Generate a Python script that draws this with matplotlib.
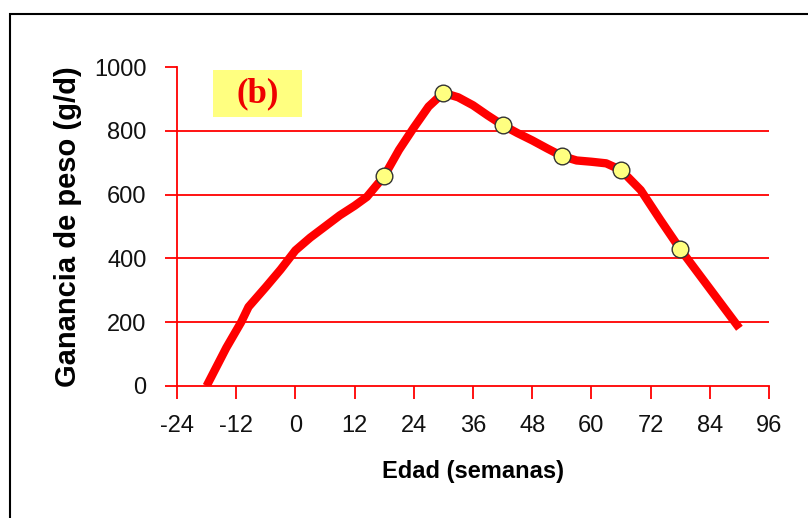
import matplotlib.pyplot as plt
from matplotlib.patches import Rectangle
from matplotlib.ticker import FuncFormatter

# curve (weeks vs g/d)
edad = [-18, -14, -11, -9.5, -6, -3, 0, 3, 6, 9, 12, 14.5, 18, 21, 24, 27,
        30, 33, 36, 39, 42, 45, 48, 51, 54, 57, 60, 63, 66, 70, 74, 78, 81,
        84, 87, 90]
ganancia = [0, 120, 200, 248, 310, 365, 425, 465, 500, 535, 565, 593, 658,
            740, 810, 876, 919, 905, 880, 848, 818, 793, 770, 745, 721, 707,
            703, 698, 677, 614, 520, 429, 367, 305, 243, 181]

# yellow markers every 12 weeks
edad_pts = [18, 30, 42, 54, 66, 78]
ganancia_pts = [658, 919, 818, 721, 677, 429]

xticks = list(range(-24, 97, 12))
yticks = [0, 200, 400, 600, 800, 1000]

fig = plt.figure(figsize=(8.08, 5.18), dpi=100)
fig.patches.append(Rectangle((10 / 808, -0.05), 1.0, 1 - 14 / 518 + 0.05,
                             transform=fig.transFigure, fill=False,
                             edgecolor="black", linewidth=1.5))

ax = fig.add_axes([177 / 808, 132 / 518, 592 / 808, 319 / 518])
ax.set_xlim(-24, 96)
ax.set_ylim(0, 1000)

for v in yticks[1:-1]:
    ax.axhline(v, color="red", linewidth=1.3, zorder=1)

ax.plot(edad, ganancia, color="red", linewidth=6, solid_capstyle="butt",
        solid_joinstyle="round", zorder=3)
ax.plot(edad_pts, ganancia_pts, linestyle="none", marker="o", markersize=12,
        markerfacecolor="#ffff80", markeredgecolor="#333333",
        markeredgewidth=1, zorder=4)

ax.set_xticks(xticks)
ax.set_yticks(yticks)
ax.xaxis.set_major_formatter(FuncFormatter(lambda v, p: "%d" % v))
for s in ["top", "right"]:
    ax.spines[s].set_visible(False)
for s in ["left", "bottom"]:
    ax.spines[s].set_color("red")
    ax.spines[s].set_linewidth(1.3)
ax.tick_params(axis="both", colors="red", length=9, width=1.3,
               labelcolor="#111111", labelsize=17)
ax.tick_params(axis="y", pad=13)
ax.tick_params(axis="x", pad=12)
ax.xaxis.get_major_ticks()[-1].tick1line.set_color("#222222")
for lab in ax.get_xticklabels() + ax.get_yticklabels():
    lab.set_family("Liberation Sans")

ax.set_xlabel("Edad (semanas)", fontsize=17, fontweight="bold",
              family="Liberation Sans")
ax.xaxis.set_label_coords(0.5, -0.232)
ax.set_ylabel("Ganancia de peso (g/d)", fontsize=21, fontweight="bold",
              family="Liberation Sans")
ax.yaxis.set_label_coords(-95 / 592, 0.5)

ax.add_patch(Rectangle((0.061, 0.843), 0.150, 0.148, transform=ax.transAxes,
                       facecolor="#ffff80", edgecolor="none", zorder=2))
ax.text(0.136, 0.915, "(b)", transform=ax.transAxes, ha="center",
        va="center", fontsize=25, fontweight="bold", color="#ee0000",
        family="Liberation Serif", zorder=5)

fig.savefig("out.png", dpi=100)
